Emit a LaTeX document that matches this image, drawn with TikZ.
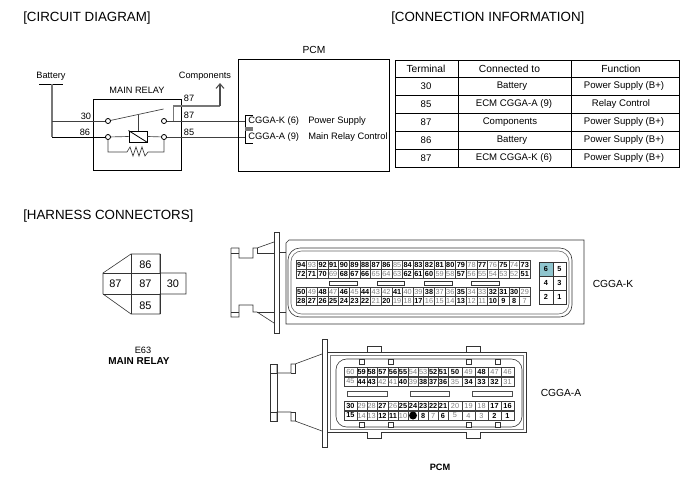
\documentclass[tikz,border=0pt]{standalone}
\usepackage{fontspec}
\setmainfont{Liberation Sans}
\usepackage{xcolor}
\usetikzlibrary{arrows.meta,positioning,calc}
\definecolor{wiregray}{HTML}{777777}
\definecolor{pinlight}{HTML}{808080}
\definecolor{pinteal}{HTML}{8FC5CE}
\newcommand{\colxA}{{344,356.7,366.7,376.7,388,398,408,418,428.3,438,448,462,475,488,501,514}}
\tikzset{
  heading/.style={inner sep=0pt, anchor=west, font=\fontsize{10}{12}\selectfont},
  lbl/.style={inner sep=0pt, font=\fontsize{6.9}{8}\selectfont},
  side/.style={inner sep=0pt, anchor=west, font=\fontsize{7}{9}\selectfont},
  thead/.style={inner sep=0pt, font=\fontsize{7.7}{9}\selectfont},
  tcell/.style={inner sep=0pt, font=\fontsize{7.2}{9}\selectfont},
  relaypin/.style={inner sep=0pt, font=\fontsize{8.2}{9}\selectfont},
  term/.style={circle, draw, fill=white, inner sep=0pt, minimum size=3.8pt, line width=0.6pt},
  wire/.style={line width=0.5pt, black!75},
  fatwire/.style={line width=1.2pt, wiregray},
  part/.style={line width=0.45pt, black!80},
  cellb/.style={draw=black!75, line width=0.3pt, inner sep=0pt, font=\bfseries\fontsize{5.5}{6}\selectfont},
  celll/.style={draw=black!75, line width=0.3pt, inner sep=0pt, text=pinlight, font=\fontsize{5.5}{6}\selectfont},
  kcell/.style={minimum width=7.98pt, minimum height=6.6pt},
  acell/.style={minimum height=7pt}
}
\begin{document}
\begin{tikzpicture}[x=0.75pt,y=-0.75pt]
    \useasboundingbox (0,0) rectangle (700,490);

    % Headings
    \node[heading] (headcircuit) at (23,18) {[CIRCUIT DIAGRAM]};
    \node[heading] (headconn) at (391,18) {[CONNECTION INFORMATION]};
    \node[heading] (headharness) at (23,216) {[HARNESS CONNECTORS]};

    % Relay box
    \node[lbl] (battery) at (51,76) {Battery};
    \node[lbl] (comps) at (205,76) {Components};
    \node[lbl] (relayname) at (137,90) {MAIN RELAY};
    \draw[line width=0.7pt] (93,99) rectangle (181,170);
    \node[lbl] (lab30) at (86,116) {30};
    \node[lbl] (lab86) at (85,132) {86};
    \node[lbl] (laba) at (189,98.5) {87};
    \node[lbl] (labb) at (189,115.5) {87};
    \node[lbl] (labc) at (189,132) {85};

    % Terminals and coil
    \coordinate (batbar) at (52,84);
    \coordinate (bat30) at (52,121);
    \coordinate (bat86) at (52,137);
    \coordinate (armtip) at (163.5,109);
    \coordinate (armmid) at (138,115);
    \coordinate (tap) at (173.5,121);
    \coordinate (comptip) at (220,83);
    \coordinate (ck) at (245,121);
    \coordinate (ca) at (245,137);
    \node[draw, line width=0.7pt, inner sep=0pt, minimum width=13.5pt, minimum height=8.2pt] (coil) at (138,136.5) {};

    % Wires
    \draw[line width=0.7pt] (39,84.3) -- (63,84.3);
    \draw[fatwire] (batbar) -- (bat86);
    \draw[wire] (bat30) -- (108,121) coordinate (a30);
    \draw[line width=0.7pt] (bat86) -- (108,137) coordinate (a86);
    \draw[wire] (a30) -- (armtip);
    \draw[wire] (armmid) -- (coil.north);
    \draw[line width=0.6pt] (coil.north west) -- (coil.south east);
    \draw[wire] (164,121) coordinate (a87) -- (ck);
    \draw[wire] (164,137) coordinate (a85) -- (ca);
    \draw[wire] (a86) -- (coil.west);
    \draw[wire] (coil.east) -- (a85);
    \draw[wire] (a86) -- (108,152) -- (127,152) -- (130,147) -- (133,156) -- (136,147) -- (139,156) -- (142,147) -- (145,156) -- (148,152) -- (164,152) -- (a85);
    \draw[fatwire] (tap) -- (173.5,105.7) -- (220,105.7);
    \draw[-{Straight Barb[length=3.5pt,width=6pt]}, line width=0.8pt, black!70] (220,106.2) -- (comptip);
    \node[term] (t30) at (a30) {};
    \node[term] (t86) at (a86) {};
    \node[term] (t87) at (a87) {};
    \node[term] (t85) at (a85) {};

    % PCM
    \node[thead] (pcmname) at (314,50) {PCM};
    \draw[line width=0.7pt] (238.7,59) rectangle (389,171);
    \draw[line width=0.7pt] (253,115) -- (245,115) -- (245,127);
    \draw[line width=0.7pt] (245,131) -- (245,143) -- (253,143);
    \draw[line width=2.4pt, wiregray] (245,129) -- (253,129);
    \node[side] (ckname) at (248,121.5) {CGGA-K (6)};
    \node[side] (caname) at (248,137) {CGGA-A (9)};
    \node[side] (supply) at (308,121.5) {Power Supply};
    \node[side] (control) at (308,137) {Main Relay Control};

    % Connection table
    \draw[line width=0.7pt] (395,60.5) rectangle (679,167);
    \foreach \y in {77,95,113,131.7,149}
        \draw[line width=0.4pt] (395,\y) -- (679,\y);
    \foreach \x in {458,571}
        \draw[line width=0.4pt] (\x,60.5) -- (\x,167);
    \node[thead] (th1) at (426,68.7) {Terminal};
    \node[thead] (th2) at (509.5,68.7) {Connected to};
    \node[thead] (th3) at (621,68.7) {Function};
    \foreach \i/\y/\t/\c/\cx/\f/\fx in {
        1/86/30/Battery/512/Power Supply (B+)/624,
        2/104/85/ECM CGGA-A (9)/514/Relay Control/621,
        3/122.5/87/Components/510/Power Supply (B+)/624,
        4/140.5/86/Battery/512/Power Supply (B+)/624,
        5/158.5/87/ECM CGGA-K (6)/514/Power Supply (B+)/624}{
        \node[tcell] (tt\i) at (426,\y) {\t};
        \node[tcell] (tc\i) at (\cx,\y) {\c};
        \node[tcell] (tf\i) at (\fx,\y) {\f};
    }

    % Relay connector
    \draw[part] (131,254) -- (160,254) -- (160,273) -- (186,273) -- (186,294) -- (160,294) -- (160,314) -- (131,314) -- (103,294) -- (103,273) -- cycle;
    \draw[part] (131,254) -- (131,314) (160,254) -- (160,314) (103,273) -- (160,273) (103,294) -- (160,294);
    \node[relaypin] (rp86) at (145.5,265) {86};
    \node[relaypin] (rpl) at (115.5,284) {87};
    \node[relaypin] (rpm) at (145.5,284) {87};
    \node[relaypin] (rp30) at (173,284) {30};
    \node[relaypin] (rp85) at (145.5,306) {85};
    \node[lbl] (e63) at (143,350) {E63};
    \node[lbl, font=\bfseries\fontsize{7.5}{8}\selectfont] (relaybold) at (139,361) {MAIN RELAY};

    % CGGA-K housing
    \draw[part] (274,232) rectangle (279,333);
    \draw[part] (286,243) -- (289,240) -- (584,240) -- (584,324) -- (286,324) -- cycle;
    \draw[part] (279,252) -- (286,252) (279,312) -- (286,312);
    \draw[part, rounded corners=9pt] (288,248) rectangle (572,317);
    \draw[part, black!60, rounded corners=8pt] (291,251) rectangle (569,314);
    \draw[part] (231,253) -- (239,253) (231,312) -- (239,312);
    \draw[part] (231,248) -- (239,248) -- (239,258) -- (253,258) -- (253,248) -- (257,248) -- (274,242);
    \draw[part] (257,248) -- (257,253) -- (274,253);
    \draw[part] (231,248) -- (231,317) -- (239,317) -- (239,305) -- (253,305) -- (253,312) -- (257,312) -- (274,323);
    \draw[part] (257,312) -- (274,312);

    % CGGA-K pins
    \foreach \n/\s [count=\i] in {94/b,93/l,92/b,91/b,90/b,89/b,88/b,87/b,86/b,85/l,84/b,83/b,82/b,81/b,80/b,79/b,78/l,77/b,76/l,75/b,74/l,73/b}
        \node[cell\s, kcell] (k\n) at ({296+10.64*(\i-0.5)},264.7) {\n};
    \foreach \n/\s [count=\i] in {72/b,71/b,70/b,69/l,68/b,67/b,66/b,65/l,64/l,63/l,62/b,61/b,60/b,59/l,58/l,57/b,56/l,55/l,54/l,53/l,52/l,51/b}
        \node[cell\s, kcell] (k\n) at ({296+10.64*(\i-0.5)},273.7) {\n};
    \foreach \n/\s [count=\i] in {50/b,49/l,48/b,47/l,46/b,45/l,44/b,43/l,42/l,41/b,40/l,39/l,38/b,37/l,36/l,35/b,34/l,33/l,32/b,31/b,30/b,29/l}
        \node[cell\s, kcell] (k\n) at ({296+10.64*(\i-0.5)},292) {\n};
    \foreach \n/\s [count=\i] in {28/b,27/b,26/b,25/b,24/b,23/b,22/b,21/l,20/b,19/l,18/l,17/b,16/l,15/l,14/l,13/b,12/l,11/l,10/b,9/b,8/b,7/l}
        \node[cell\s, kcell] (k\n) at ({296+10.64*(\i-0.5)},301) {\n};
    \foreach \a/\b in {329/357,377/404,424/452,471/499}
        \draw[part] (\a,281) rectangle (\b,285.7);

    % CGGA-K small block
    \fill[pinteal] (539,262) rectangle (553,276);
    \draw[line width=0.4pt, black!80] (539,262) rectangle (566,304) (553,262) -- (553,304) (539,276) -- (566,276) (539,290) -- (566,290);
    \foreach \n/\x/\y in {6/546/269,5/559.5/269,4/546/283,3/559.5/283,2/546/297,1/559.5/297}
        \node[inner sep=0pt, font=\bfseries\fontsize{5.5}{6}\selectfont] (s\n) at (\x,\y) {\n};
    \node[thead] (kname) at (613,284) {CGGA-K};

    % CGGA-A housing
    \draw[part] (322,339) rectangle (327,447);
    \draw[part] (327,352) -- (526,352) -- (526,432) -- (327,432);
    \draw[part, black!50] (330,355) -- (523,355) -- (523,429) -- (330,429) -- cycle;
    \draw[part, fill=white, rounded corners=8pt] (336,359) rectangle (522,427);
    \draw[part] (270,364) rectangle (277,421);
    \draw[part] (270,373) -- (277,373) (270,412) -- (277,412);
    \draw[part] (277,364) -- (277,373) -- (291,373) -- (291,364) -- (295,364) -- (322,354);
    \draw[part] (295,364) -- (295,373) -- (291,373);
    \draw[part] (277,421) -- (277,412) -- (291,412) -- (291,421) -- (295,421) -- (322,431);
    \draw[part] (295,421) -- (295,412) -- (291,412);
    \foreach \a in {367,466}{
        \draw[part, fill=white] (\a,352) -- (\a,346) -- ({\a+14.5},346) -- ({\a+14.5},352);
        \draw[part, fill=white] (\a,432) -- (\a,438) -- ({\a+14.5},438) -- ({\a+14.5},432);
    }
    \foreach \a in {359,388,466,495}{
        \draw[part, fill=white] (\a,359) rectangle ({\a+5},364);
        \draw[part, fill=white] (\a,422) rectangle ({\a+5},427);
    }

    % CGGA-A pins
    \foreach \n/\s [count=\i] in {60/l,59/b,58/b,57/b,56/b,55/b,54/l,53/l,52/b,51/b,50/b,49/l,48/b,47/l,46/l}{
        \pgfmathsetmacro{\xl}{\colxA[\i-1]}
        \pgfmathsetmacro{\xr}{\colxA[\i]}
        \node[cell\s, acell, minimum width={(\xr-\xl)*0.75pt}] (a\n) at ({(\xl+\xr)/2},372) {\n};
    }
    \foreach \n/\s [count=\i] in {45/l,44/b,43/b,42/l,41/l,40/b,39/l,38/b,37/b,36/b,35/l,34/b,33/b,32/b,31/l}{
        \pgfmathsetmacro{\xl}{\colxA[\i-1]}
        \pgfmathsetmacro{\xr}{\colxA[\i]}
        \node[cell\s, acell, minimum width={(\xr-\xl)*0.75pt}] (a\n) at ({(\xl+\xr)/2},381.5) {\n};
    }
    \foreach \n/\s [count=\i] in {30/b,29/l,28/l,27/b,26/l,25/b,24/b,23/b,22/b,21/b,20/l,19/l,18/l,17/b,16/b}{
        \pgfmathsetmacro{\xl}{\colxA[\i-1]}
        \pgfmathsetmacro{\xr}{\colxA[\i]}
        \node[cell\s, acell, minimum width={(\xr-\xl)*0.75pt}] (a\n) at ({(\xl+\xr)/2},406) {\n};
    }
    \foreach \n/\s [count=\i] in {15/b,14/l,13/l,12/b,11/b,10/l,9/b,8/b,7/l,6/b,5/l,4/l,3/l,2/b,1/b}{
        \pgfmathsetmacro{\xl}{\colxA[\i-1]}
        \pgfmathsetmacro{\xr}{\colxA[\i]}
        \node[cell\s, acell, minimum width={(\xr-\xl)*0.75pt}] (a\n) at ({(\xl+\xr)/2},415.5) {\ifnum\n=9 \else\n\fi};
    }
    \node[circle, fill=black, inner sep=0pt, minimum size=6pt] (pindot) at (a9) {};
    \foreach \a/\b in {347/387,410/449,472/512}
        \draw[part, black!70] (\a,391) rectangle (\b,396);
    \node[thead] (aname) at (561,393) {CGGA-A};
    \node[lbl, font=\bfseries\fontsize{6.9}{8}\selectfont] (pcmbold) at (440,467) {PCM};
\end{tikzpicture}
\end{document}
